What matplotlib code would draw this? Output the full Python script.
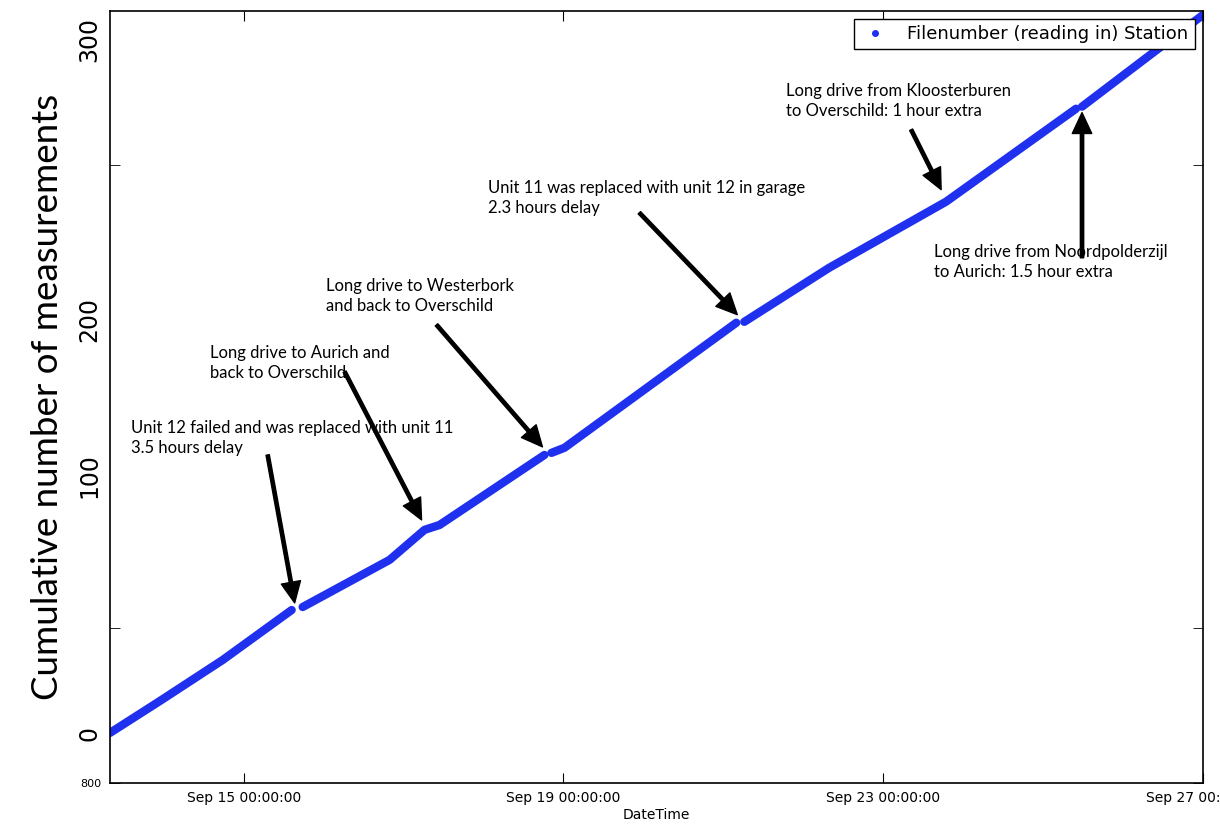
import matplotlib
matplotlib.use("Agg")
import matplotlib.pyplot as plt
import matplotlib.dates as mdates
from matplotlib.lines import Line2D
import pandas as pd

# Cumulative measurement count, split into runs between the interruptions
SEGMENT_TIMES = [
    ["2015-09-13 07:48", "2015-09-13 23:00", "2015-09-14 17:42", "2015-09-15 14:24"],
    ["2015-09-15 17:42", "2015-09-16 19:48", "2015-09-17 06:18", "2015-09-17 10:48",
     "2015-09-18 18:18"],
    ["2015-09-18 20:24", "2015-09-19 00:18", "2015-09-21 03:54"],
    ["2015-09-21 06:18", "2015-09-22 07:48", "2015-09-23 18:54", "2015-09-25 09:54"],
    ["2015-09-25 11:42", "2015-09-26 07:48", "2015-09-26 23:45"],
]
SEGMENT_COUNTS = [
    [0, 14, 31.6, 53.2],
    [54.5, 74.9, 87.9, 90.0, 120.3],
    [121.2, 123.4, 177.5],
    [177.9, 201.3, 229.9, 270.1],
    [271.0, 293.0, 310.4],
]

NOTES = [
    "Unit 12 failed and was replaced with unit 11\n3.5 hours delay",
    "Long drive to Aurich and\nback to Overschild",
    "Long drive to Westerbork\nand back to Overschild",
    "Unit 11 was replaced with unit 12 in garage\n2.3 hours delay",
    "Long drive from Kloosterburen\nto Overschild: 1 hour extra",
    "Long drive from Noordpolderzijl\nto Aurich: 1.5 hour extra",
]
NOTE_POS = [
    ("2015-09-13 14:06", 135.5),
    ("2015-09-14 13:48", 168.0),
    ("2015-09-16 00:36", 197.0),
    ("2015-09-18 01:30", 239.4),
    ("2015-09-21 18:54", 281.4),
    ("2015-09-23 15:18", 211.7),
]
ARROW_TAIL = [
    ("2015-09-15 07:12", 120.3),
    ("2015-09-16 06:18", 156.3),
    ("2015-09-17 09:54", 176.6),
    ("2015-09-19 22:48", 225.1),
    ("2015-09-23 08:24", 261.0),
    ("2015-09-25 11:42", 205.6),
]
ARROW_HEAD = [
    ("2015-09-15 15:18", 56.3),
    ("2015-09-17 05:24", 92.2),
    ("2015-09-18 17:42", 123.8),
    ("2015-09-21 04:12", 181.0),
    ("2015-09-23 17:24", 235.1),
    ("2015-09-25 11:42", 268.4),
]

YTICK_POS = [0, 111.3, 178.8, 300]
YTICK_LABELS = ["0", "100", "200", "300"]
YMARK_POS = [-21.6, 45.5, 111.3, 178.8, 245.9]
XTICKS = ["2015-09-15", "2015-09-19", "2015-09-23", "2015-09-27"]

NOTE_FONT = ["Lato", "DejaVu Sans"]
LINE_COLOR = "#1f30ee"


def ts(s):
    return mdates.date2num(pd.Timestamp(s))


def main():
    fig = plt.figure(figsize=(12.2, 8.25), dpi=100)
    ax = fig.add_axes([0.090, 0.051, 0.896, 0.936])

    for times, counts in zip(SEGMENT_TIMES, SEGMENT_COUNTS):
        ax.plot(pd.to_datetime(times), counts, color=LINE_COLOR, lw=6,
                solid_capstyle="round", solid_joinstyle="round")

    for text, pos in zip(NOTES, NOTE_POS):
        ax.text(ts(pos[0]), pos[1], text, fontsize=12, family=NOTE_FONT,
                va="top", ha="left", linespacing=1.3)

    for tail, head in zip(ARROW_TAIL, ARROW_HEAD):
        ax.annotate("", xy=(ts(head[0]), head[1]), xytext=(ts(tail[0]), tail[1]),
                    arrowprops=dict(facecolor="black", edgecolor="black",
                                    width=2.4, headwidth=14, headlength=15,
                                    shrink=0))

    ax.set_xlim(ts("2015-09-13 07:48"), ts("2015-09-27 00:00"))
    ax.set_ylim(-21.6, 312.5)

    ax.set_xticks([ts(t) for t in XTICKS])
    ax.xaxis.set_major_formatter(mdates.DateFormatter("%b %d %H:%M:%S"))
    for lab in ax.get_xticklabels():
        lab.set_fontsize(10)
    ax.set_xlabel("DateTime", fontsize=10, labelpad=2)

    ax.set_yticks(YTICK_POS)
    ax.set_yticklabels(YTICK_LABELS, rotation=90, va="center", fontsize=17)
    ax.tick_params(axis="y", which="major", length=0, pad=6)
    ax.set_yticks(YMARK_POS, minor=True)
    ax.set_yticklabels(["800", "", "", "", ""], minor=True, fontsize=8)
    ax.tick_params(axis="y", which="minor", direction="in", length=7,
                   left=True, right=True, pad=6)
    ax.tick_params(axis="x", direction="in", length=7, top=True, bottom=True,
                   pad=6)

    ax.set_ylabel("Cumulative number of measurements", fontsize=26.5,
                  family=NOTE_FONT, labelpad=10)

    for sp in ax.spines.values():
        sp.set_linewidth(1.2)

    handle = Line2D([], [], marker=".", ls="", color=LINE_COLOR, markersize=8)
    leg = ax.legend([handle], ["Filenumber (reading in) Station"],
                    loc="upper right", fontsize=13, fancybox=False,
                    framealpha=1, edgecolor="black", handletextpad=1.0,
                    handlelength=1.6, borderaxespad=0.45, borderpad=0.35,
                    numpoints=1)
    leg.get_frame().set_linewidth(1.0)

    fig.savefig("out.png", dpi=100)


if __name__ == "__main__":
    main()
